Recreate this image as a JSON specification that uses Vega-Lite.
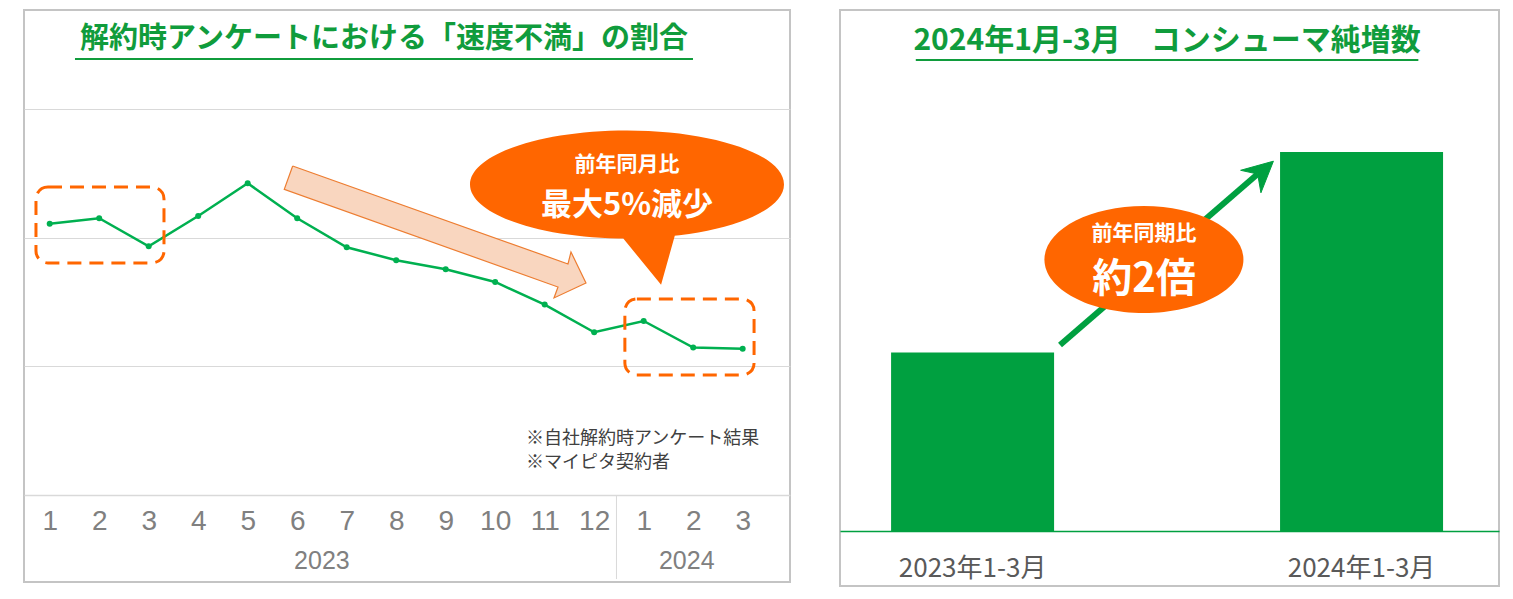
{
  "$schema": "https://vega.github.io/schema/vega-lite/v6.json",
  "padding": {"left": 23, "top": 9, "right": 10, "bottom": 10},
  "background": "white",
  "config": {
    "view": {"stroke": "#c4c4c4", "strokeWidth": 2},
    "font": "Noto Sans CJK JP"
  },
  "datasets": {
    "months": [
      {"year": 2023, "month": 1, "idx": 1, "value": 21.08},
      {"year": 2023, "month": 2, "idx": 2, "value": 21.5},
      {"year": 2023, "month": 3, "idx": 3, "value": 19.32},
      {"year": 2023, "month": 4, "idx": 4, "value": 21.68},
      {"year": 2023, "month": 5, "idx": 5, "value": 24.22},
      {"year": 2023, "month": 6, "idx": 6, "value": 21.5},
      {"year": 2023, "month": 7, "idx": 7, "value": 19.25},
      {"year": 2023, "month": 8, "idx": 8, "value": 18.24},
      {"year": 2023, "month": 9, "idx": 9, "value": 17.54},
      {"year": 2023, "month": 10, "idx": 10, "value": 16.55},
      {"year": 2023, "month": 11, "idx": 11, "value": 14.79},
      {"year": 2023, "month": 12, "idx": 12, "value": 12.64},
      {"year": 2024, "month": 1, "idx": 13, "value": 13.52},
      {"year": 2024, "month": 2, "idx": 14, "value": 11.45},
      {"year": 2024, "month": 3, "idx": 15, "value": 11.37}
    ],
    "blockArrow": [
      {"i": 0, "x": 5.909, "y": 25.56},
      {"i": 1, "x": 11.471, "y": 17.95},
      {"i": 2, "x": 11.531, "y": 18.88},
      {"i": 3, "x": 11.834, "y": 16.47},
      {"i": 4, "x": 11.188, "y": 15.31},
      {"i": 5, "x": 11.269, "y": 16.16},
      {"i": 6, "x": 5.739, "y": 23.75},
      {"i": 7, "x": 5.909, "y": 25.56}
    ],
    "bars": [
      {"period": "2023年1-3月", "idx": 0, "value": 100},
      {"period": "2024年1-3月", "idx": 1, "value": 212.3}
    ],
    "arrowHead": [
      {"i": 0, "x": 0.7734, "y": 207.2},
      {"i": 1, "x": 0.6891, "y": 202.1},
      {"i": 2, "x": 0.7329, "y": 200},
      {"i": 3, "x": 0.7413, "y": 189.5},
      {"i": 4, "x": 0.7734, "y": 207.2}
    ],
    "one": [{}]
  },
  "hconcat": [
    {
      "width": 766,
      "height": 572,
      "layer": [
        {
          "data": {"name": "months"},
          "mark": {"type": "line", "color": "#00b050", "strokeWidth": 2.5, "point": {"filled": true, "size": 36, "color": "#00b050", "opacity": 1}},
          "encoding": {
            "x": {
              "field": "idx", "type": "quantitative",
              "scale": {"domain": [0.481, 15.956], "nice": false, "zero": false},
              "axis": {
                "values": [1, 2, 3, 4, 5, 6, 7, 8, 9, 10, 11, 12, 13, 14, 15],
                "labelExpr": "'' + (datum.value > 12 ? datum.value - 12 : datum.value)",
                "offset": -87, "title": null, "grid": false, "ticks": false,
                "domainColor": "#d9d9d9", "domainWidth": 1.5,
                "labelFont": "Liberation Sans Narrow, Arial Narrow, Liberation Sans, sans-serif",
                "labelFontSize": 28, "labelColor": "#808080", "labelPadding": 12,
                "labelFlush": false, "labelOverlap": false, "labelBound": false
              }
            },
            "y": {
              "field": "value", "type": "quantitative",
              "scale": {"domain": [-6.76, 37.68], "nice": false, "zero": false},
              "axis": {"values": [10, 20, 30], "grid": true, "gridColor": "#d9d9d9", "gridWidth": 1, "labels": false, "ticks": false, "domain": false, "title": null}
            }
          }
        },
        {
          "data": {"name": "one"},
          "mark": {"type": "rule", "color": "#d9d9d9", "strokeWidth": 1},
          "encoding": {"x": {"datum": 12.45}, "y": {"datum": 0}, "y2": {"datum": -6.53}}
        },
        {
          "data": {"name": "one"},
          "mark": {"type": "text", "text": "2023", "font": "Liberation Sans Narrow, Arial Narrow, Liberation Sans, sans-serif", "fontSize": 25, "color": "#808080", "align": "center", "baseline": "middle"},
          "encoding": {"x": {"datum": 6.5}, "y": {"datum": -5.13}}
        },
        {
          "data": {"name": "one"},
          "mark": {"type": "text", "text": "2024", "font": "Liberation Sans Narrow, Arial Narrow, Liberation Sans, sans-serif", "fontSize": 25, "color": "#808080", "align": "center", "baseline": "middle"},
          "encoding": {"x": {"datum": 13.87}, "y": {"datum": -5.13}}
        },
        {
          "data": {"name": "one"},
          "mark": {"type": "rect", "filled": false, "stroke": "#ff6600", "strokeWidth": 3, "strokeDash": [14, 8], "cornerRadius": 12},
          "encoding": {"x": {"datum": 0.723}, "x2": {"datum": 3.309}, "y": {"datum": 23.93}, "y2": {"datum": 18.03}}
        },
        {
          "data": {"name": "one"},
          "mark": {"type": "rect", "filled": false, "stroke": "#ff6600", "strokeWidth": 3, "strokeDash": [14, 8], "cornerRadius": 12},
          "encoding": {"x": {"datum": 12.62}, "x2": {"datum": 15.23}, "y": {"datum": 15.23}, "y2": {"datum": 9.32}}
        },
        {
          "data": {"name": "blockArrow"},
          "mark": {"type": "line", "fill": "#f9d6bf", "stroke": "#ed7d31", "strokeWidth": 1.2},
          "encoding": {
            "x": {"field": "x", "type": "quantitative"},
            "y": {"field": "y", "type": "quantitative"},
            "order": {"field": "i", "type": "quantitative"}
          }
        },
        {
          "data": {"name": "one"},
          "mark": {"type": "point", "shape": "M-1,0A1,0.344,0,1,1,1,0A1,0.344,0,1,1,-1,0Z M0.312,0.3L0.217,0.639L-0.06,0.3Z", "size": 98596, "filled": true, "fill": "#ff6600", "opacity": 1, "strokeWidth": 0},
          "encoding": {"x": {"datum": 12.663}, "y": {"datum": 24.13}}
        },
        {
          "data": {"name": "one"},
          "mark": {"type": "text", "text": "前年同月比", "fontSize": 21, "fontWeight": "bold", "color": "white", "align": "center", "baseline": "middle"},
          "encoding": {"x": {"datum": 12.663}, "y": {"datum": 25.6}}
        },
        {
          "data": {"name": "one"},
          "mark": {"type": "text", "text": "最大5%減少", "fontSize": 31, "fontWeight": "bold", "color": "white", "align": "center", "baseline": "middle"},
          "encoding": {"x": {"datum": 12.663}, "y": {"datum": 22.45}}
        },
        {
          "data": {"name": "one"},
          "mark": {"type": "text", "text": "※自社解約時アンケート結果", "fontSize": 18, "color": "#404040", "align": "left", "baseline": "middle"},
          "encoding": {"x": {"datum": 10.622}, "y": {"datum": 4.35}}
        },
        {
          "data": {"name": "one"},
          "mark": {"type": "text", "text": "※マイピタ契約者", "fontSize": 18, "color": "#404040", "align": "left", "baseline": "middle"},
          "encoding": {"x": {"datum": 10.622}, "y": {"datum": 2.49}}
        },
        {
          "data": {"name": "one"},
          "mark": {"type": "text", "text": "解約時アンケートにおける「速度不満」の割合", "fontSize": 29, "fontWeight": "bold", "color": "#109c3c", "align": "center", "baseline": "middle"},
          "encoding": {"x": {"datum": 7.753}, "y": {"datum": 35.43}}
        },
        {
          "data": {"name": "one"},
          "mark": {"type": "rule", "color": "#109c3c", "strokeWidth": 2},
          "encoding": {"x": {"datum": 1.511}, "x2": {"datum": 13.996}, "y": {"datum": 33.88}}
        }
      ]
    },
    {
      "width": 659,
      "height": 576,
      "layer": [
        {
          "data": {"name": "bars"},
          "mark": {"type": "bar", "width": 163, "color": "#00a040"},
          "encoding": {
            "x": {
              "field": "idx", "type": "quantitative",
              "scale": {"domain": [-0.328, 1.3405], "nice": false, "zero": false},
              "axis": {"offset": -55, "labels": false, "ticks": false, "grid": false, "title": null, "domainColor": "#00a040", "domainWidth": 1.5}
            },
            "y": {
              "field": "value", "type": "quantitative",
              "scale": {"domain": [-30.8, 291.9], "nice": false, "zero": false},
              "axis": null
            },
            "y2": {"datum": 0}
          }
        },
        {
          "data": {"name": "bars"},
          "mark": {"type": "text", "fontSize": 26, "color": "#595959", "align": "center", "baseline": "middle"},
          "encoding": {
            "x": {"field": "idx", "type": "quantitative"},
            "y": {"datum": -21.3},
            "text": {"field": "period"}
          }
        },
        {
          "data": {"name": "one"},
          "mark": {"type": "rule", "color": "#00a040", "strokeWidth": 6},
          "encoding": {"x": {"datum": 0.2248}, "y": {"datum": 104.2}, "x2": {"datum": 0.7329}, "y2": {"datum": 200}}
        },
        {
          "data": {"name": "arrowHead"},
          "mark": {"type": "line", "fill": "#00a040", "stroke": "#00a040", "strokeWidth": 1},
          "encoding": {
            "x": {"field": "x", "type": "quantitative"},
            "y": {"field": "y", "type": "quantitative"},
            "order": {"field": "i", "type": "quantitative"}
          }
        },
        {
          "data": {"name": "one"},
          "mark": {"type": "point", "shape": "M-1,0A1,0.538,0,1,1,1,0A1,0.538,0,1,1,-1,0Z", "size": 39601, "filled": true, "fill": "#ff6600", "opacity": 1, "strokeWidth": 0},
          "encoding": {"x": {"datum": 0.4405}, "y": {"datum": 152.1}}
        },
        {
          "data": {"name": "one"},
          "mark": {"type": "text", "text": "前年同期比", "fontSize": 21, "fontWeight": "bold", "color": "white", "align": "center", "baseline": "middle"},
          "encoding": {"x": {"datum": 0.4405}, "y": {"datum": 166.4}}
        },
        {
          "data": {"name": "one"},
          "mark": {"type": "text", "text": "約2倍", "fontSize": 40, "fontWeight": "bold", "color": "white", "align": "center", "baseline": "middle"},
          "encoding": {"x": {"datum": 0.4405}, "y": {"datum": 140.6}}
        },
        {
          "data": {"name": "one"},
          "mark": {"type": "text", "text": "2024年1月-3月　コンシューマ純増数", "fontSize": 30, "fontWeight": "bold", "color": "#109c3c", "align": "center", "baseline": "middle"},
          "encoding": {"x": {"datum": 0.5}, "y": {"datum": 274.5}}
        },
        {
          "data": {"name": "one"},
          "mark": {"type": "rule", "color": "#109c3c", "strokeWidth": 2},
          "encoding": {"x": {"datum": -0.146}, "x2": {"datum": 1.146}, "y": {"datum": 263.9}}
        }
      ]
    }
  ],
  "spacing": 48
}
